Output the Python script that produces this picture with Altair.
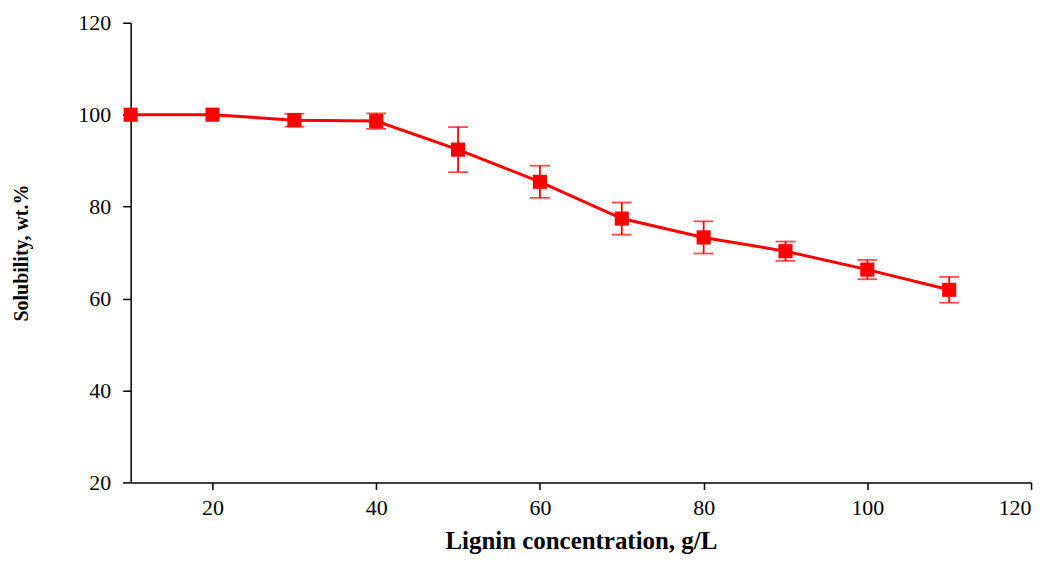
import altair as alt
import pandas as pd

conc = [10, 20, 30, 40, 50, 60, 70, 80, 90, 100, 110]
solubility = [100.0, 100.0, 98.8, 98.6, 92.4, 85.4, 77.4, 73.3, 70.3, 66.3, 61.9]
err = [0.0, 0.0, 1.4, 1.7, 4.9, 3.5, 3.5, 3.5, 2.1, 2.1, 2.8]

df = pd.DataFrame({"x": conc, "y": solubility, "e": err})
df["lo"] = df["y"] - df["e"]
df["hi"] = df["y"] + df["e"]

RED = "#ff0000"
FONT = "Liberation Serif"

xscale = alt.Scale(domain=[10, 120], nice=False, zero=False)
yscale = alt.Scale(domain=[20, 120], nice=False, zero=False)

xaxis = alt.Axis(values=[20, 40, 60, 80, 100, 120], title="Lignin concentration, g/L",
                 grid=False, tickSize=7, labelPadding=8, titlePadding=30,
                 titleBaseline="alphabetic",
                 labelFontSize=22, titleFontSize=25, titleFontWeight="bold",
                 labelFont=FONT, titleFont=FONT, domainColor="black", tickColor="black",
                 labelColor="black", titleColor="black", domainWidth=1.5, tickWidth=1.5)
yaxis = alt.Axis(values=[20, 40, 60, 80, 100, 120], title="Solubility, wt.%",
                 grid=False, tickSize=8, labelPadding=12, titlePadding=46,
                 labelFontSize=22, titleFontSize=20, titleFontWeight="bold",
                 labelFont=FONT, titleFont=FONT, domainColor="black", tickColor="black",
                 labelColor="black", titleColor="black", domainWidth=1.5, tickWidth=1.5)

base = alt.Chart(df)

line = base.mark_line(color=RED, strokeWidth=3).encode(
    x=alt.X("x:Q", scale=xscale, axis=xaxis),
    y=alt.Y("y:Q", scale=yscale, axis=yaxis),
)
rules = base.transform_filter("datum.e > 0").mark_rule(color=RED, strokeWidth=1.8).encode(
    x="x:Q", y="lo:Q", y2="hi:Q"
)
caps_hi = base.transform_filter("datum.e > 0").mark_tick(color=RED, size=20, thickness=1.8, orient="horizontal").encode(
    x="x:Q", y="hi:Q"
)
caps_lo = base.transform_filter("datum.e > 0").mark_tick(color=RED, size=20, thickness=1.8, orient="horizontal").encode(
    x="x:Q", y="lo:Q"
)
points = base.mark_square(color=RED, size=200, opacity=1).encode(
    x="x:Q", y="y:Q"
)

chart = alt.layer(line, rules, caps_hi, caps_lo, points).properties(
    width=903, height=461,
    autosize=alt.AutoSizeParams(type="none"),
    padding={"left": 123, "top": 14, "right": 18, "bottom": 71},
).configure(background="white").configure_view(stroke=None)

chart.save("out.html", embed_options={"renderer": "svg", "actions": False})
